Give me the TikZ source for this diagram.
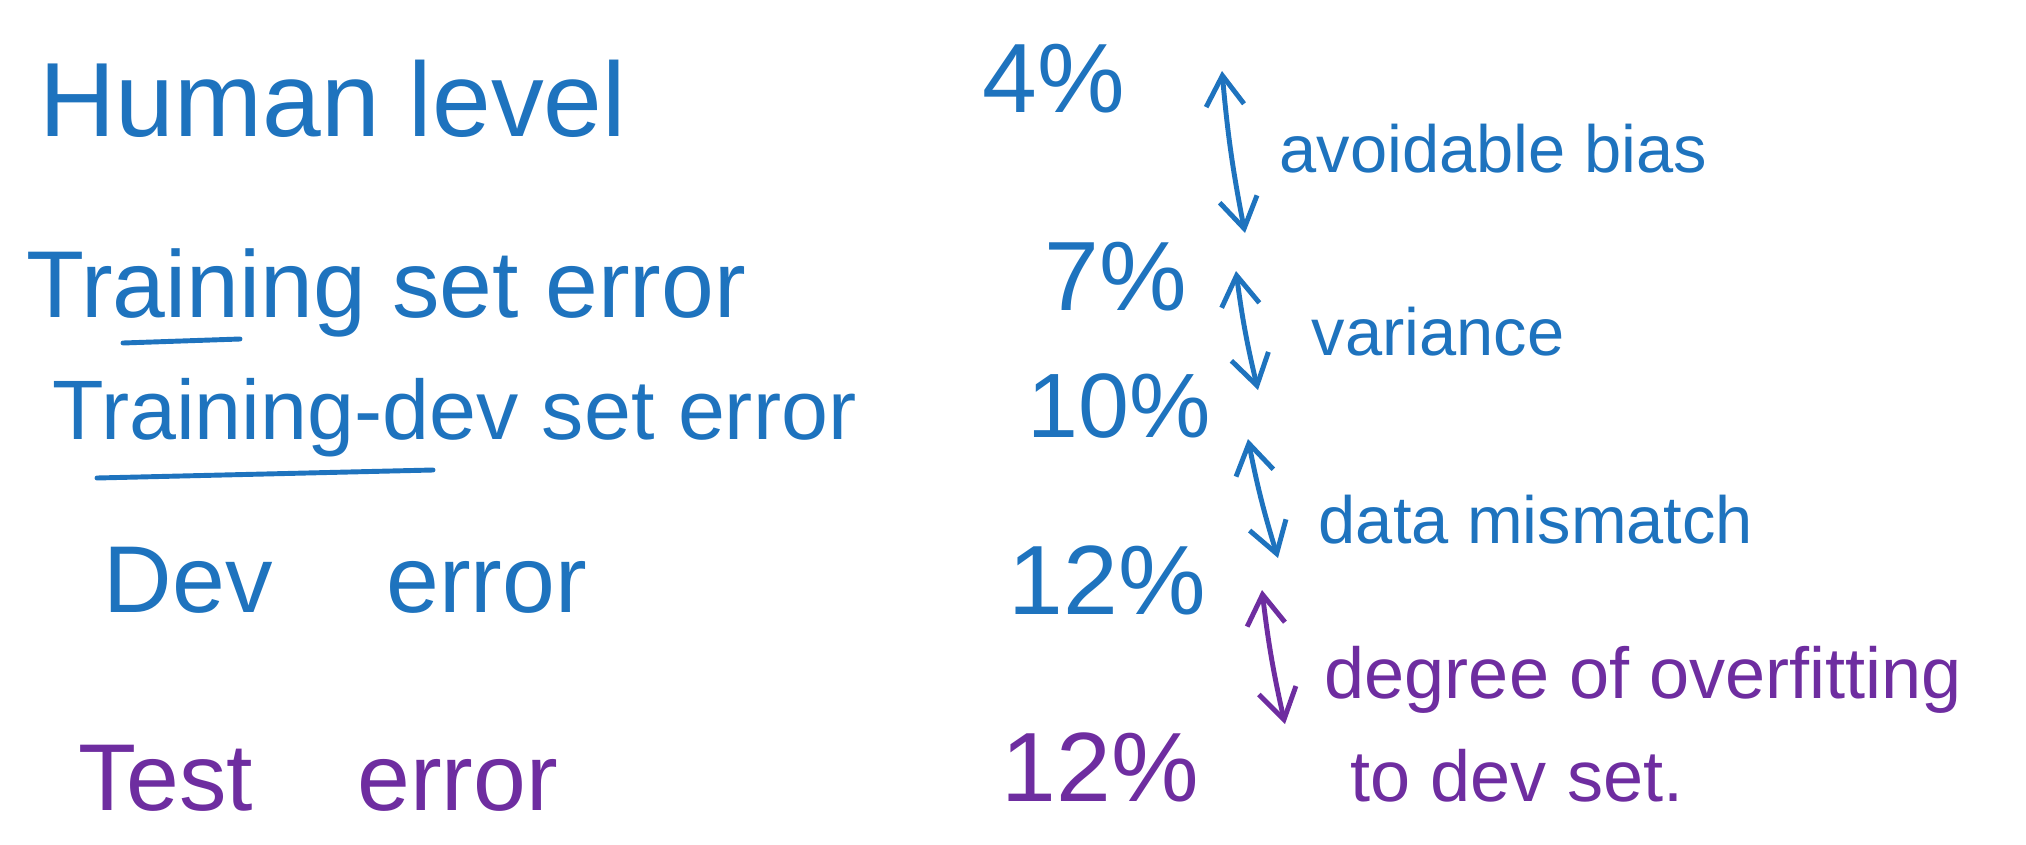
\documentclass[tikz,border=0pt]{standalone}
\usepackage{fontspec}
\setmainfont{Liberation Sans}
\usetikzlibrary{arrows.meta}
\definecolor{inkblue}{RGB}{30,115,190}
\definecolor{inkpurple}{RGB}{110,45,160}

\begin{document}
\begin{tikzpicture}[x=0.01cm, y=-0.01cm,
  lbl/.style={anchor=base west, inner sep=0pt, text=inkblue,
              font=\fontsize{27}{30}\selectfont},
  pct/.style={anchor=base west, inner sep=0pt, text=inkblue,
              font=\fontsize{28}{30}\selectfont},
  note/.style={anchor=base west, inner sep=0pt, text=inkblue,
               font=\fontsize{19}{22}\selectfont},
  gap/.style={{Straight Barb[length=3mm,width=3.8mm]}-{Straight Barb[length=3mm,width=3.8mm]},
              line width=1.4pt, inkblue},
  uline/.style={line width=1.4pt, inkblue, line cap=round},
]

% Canvas
\useasboundingbox[fill=white] (0,0) rectangle (2026,845);

% === Left column: error levels ===
\node[lbl, font=\fontsize{30}{32}\selectfont] (human) at (39,136) {Human level};
\node[lbl] (train) at (26,317) {Training set error};
\node[lbl, font=\fontsize{24}{26}\selectfont] (trdev) at (52,439) {Training-dev set error};
\node[lbl] (dev) at (103,612) {Dev\hspace{1.2em}error};
\node[lbl, text=inkpurple] (test) at (78,810) {Test\hspace{1.1em}error};

% underlines
\draw[uline] (123,343) -- (240,339);
\draw[uline] (97,478) -- (433,470);

% === Percentages ===
\node[pct] (p4) at (982,112) {4\%};
\node[pct] (p7) at (1044,310) {7\%};
\node[pct, font=\fontsize{26}{28}\selectfont] (p10) at (1027,437) {10\%};
\node[pct] (p12) at (1008,614) {12\%};
\node[pct, text=inkpurple] (p12t) at (1001,801) {12\%};

% === Gaps between levels ===
\coordinate (a1t) at (1222,71);
\coordinate (a1b) at (1245,233);
\coordinate (a2t) at (1236,271);
\coordinate (a2b) at (1258,390);
\coordinate (a3t) at (1248,439);
\coordinate (a3b) at (1278,558);
\coordinate (a4t) at (1262,590);
\coordinate (a4b) at (1285,724);

\draw[gap] (a1t) to[bend right=3] (a1b);
\draw[gap] (a2t) to[bend right=3] (a2b);
\draw[gap] (a3t) to[bend right=3] (a3b);
\draw[gap, inkpurple] (a4t) to[bend right=3] (a4b);

\node[note] (bias) at (1279,172) {avoidable bias};
\node[note] (var) at (1311,355) {variance};
\node[note] (mis) at (1318,543) {data mismatch};
\node[note, text=inkpurple, font=\fontsize{20.5}{24}\selectfont] (over) at (1324,698) {degree of overfitting};
\node[note, text=inkpurple, font=\fontsize{20.5}{24}\selectfont] (over2) at (1350,801) {to dev set.};

\end{tikzpicture}
\end{document}
